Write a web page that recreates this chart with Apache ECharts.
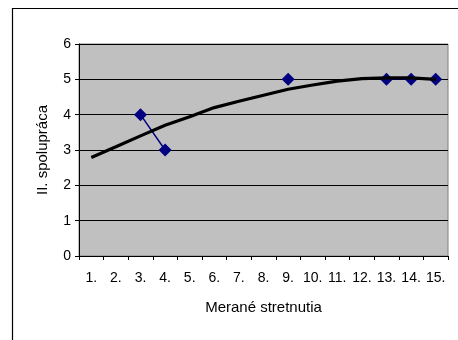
<!DOCTYPE html>
<html>
<head>
<meta charset="utf-8">
<script src="https://cdn.jsdelivr.net/npm/echarts@6/dist/echarts.min.js"></script>
<style>
html,body{margin:0;padding:0;background:#fff;}
#chart{width:458px;height:340px;}
</style>
</head>
<body>
<div id="chart"></div>
<script>
var categories = ['1.', '2.', '3.', '4.', '5.', '6.', '7.', '8.', '9.', '10.', '11.', '12.', '13.', '14.', '15.'];
var measured = [null, null, 4, 3, null, null, null, null, 5, null, null, null, 5, 5, 5];
var trend = [2.79, 3.09, 3.40, 3.70, 3.94, 4.20, 4.38, 4.55, 4.72, 4.84, 4.95, 5.02, 5.04, 5.04, 5.0];
var yTicks = [0, 1, 2, 3, 4, 5, 6];
var xTitle = 'Merané stretnutia';
var yTitle = 'II. spolupráca';

var font = 'Arial, "Liberation Sans", sans-serif';
var chart = echarts.init(document.getElementById('chart'), null, {renderer: 'canvas'});
chart.setOption({
  animation: false,
  backgroundColor: '#ffffff',
  graphic: [{
    type: 'rect',
    shape: {x: 12.5, y: 8.5, width: 470, height: 360},
    style: {fill: 'none', stroke: '#000', lineWidth: 1.2},
    silent: true
  }],
  grid: {
    left: 79, top: 44, right: 10, bottom: 84,
    show: true, backgroundColor: '#C0C0C0', borderColor: '#808080', borderWidth: 1
  },
  xAxis: {
    type: 'category',
    data: categories,
    boundaryGap: true,
    name: xTitle,
    nameLocation: 'middle',
    nameGap: 44,
    nameTextStyle: {fontFamily: font, fontSize: 15, color: '#000'},
    axisLine: {show: true, lineStyle: {color: '#000', width: 1}},
    axisTick: {show: true, alignWithLabel: false, interval: 0, length: 4, lineStyle: {color: '#000'}},
    axisLabel: {interval: 0, margin: 15, fontFamily: font, fontSize: 14, color: '#000'},
    splitLine: {show: false}
  },
  yAxis: {
    type: 'value',
    min: yTicks[0],
    max: yTicks[yTicks.length - 1],
    interval: 1,
    name: yTitle,
    nameLocation: 'middle',
    nameGap: 29,
    nameTextStyle: {fontFamily: font, fontSize: 15, color: '#000'},
    axisLine: {show: true, lineStyle: {color: '#000', width: 1}},
    axisTick: {show: true, length: 4, lineStyle: {color: '#000'}},
    axisLabel: {margin: 8, fontFamily: font, fontSize: 14, color: '#000'},
    splitLine: {show: true, lineStyle: {color: '#000', width: 1}}
  },
  series: [
    {
      type: 'line',
      data: measured,
      connectNulls: false,
      symbol: 'diamond',
      symbolSize: 13,
      showAllSymbol: true,
      itemStyle: {color: '#000080'},
      lineStyle: {color: '#000080', width: 1.5},
      z: 2
    },
    {
      type: 'line',
      data: trend,
      symbol: 'none',
      smooth: false,
      lineStyle: {color: '#000', width: 3.2},
      z: 3
    }
  ]
});
</script>
</body>
</html>
